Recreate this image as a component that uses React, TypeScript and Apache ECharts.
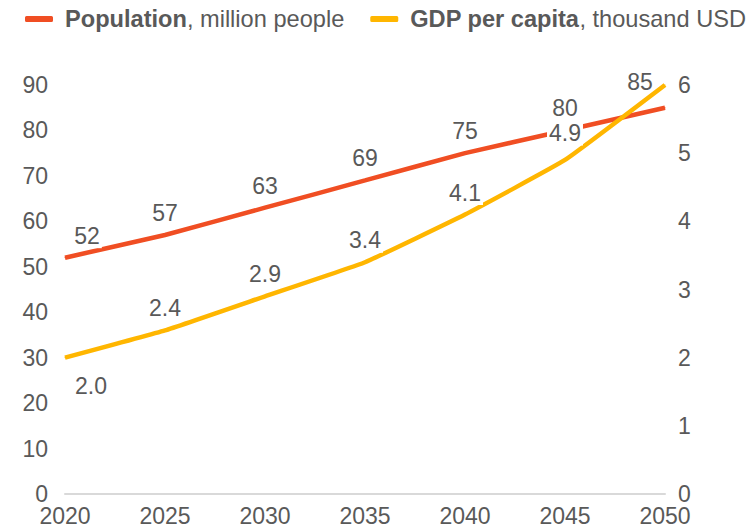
import React, { useEffect, useRef } from "react";
import * as echarts from "echarts";

const years = ["2020", "2025", "2030", "2035", "2040", "2045", "2050"];
const population = [52, 57, 63, 69, 75, 80, 85];
const gdpPerCapita = [2.0, 2.4, 2.9, 3.4, 4.1, 4.9, 6.0];
const leftTicks = { min: 0, max: 90, interval: 10 };
const rightTicks = { min: 0, max: 6, interval: 1 };

const FONT = 'Arial, "Liberation Sans", sans-serif';
const GREY = "#595959";
const RED = "#F04E23";
const YELLOW = "#FFB600";
const LEGEND_FS = 23.6;

export default function App() {
  const ref = useRef<HTMLDivElement>(null);
  useEffect(() => {
    document.body.style.margin = "0";
    const chart = echarts.init(ref.current!, null, { renderer: "svg" });
    const labelBase = {
      show: true,
      position: "top",
      distance: 9,
      color: GREY,
      fontSize: 23,
      fontFamily: FONT,
      backgroundColor: "#fff",
      padding: [1, 2],
    };
    const popData = population.map((v, i) => {
      const item: any = { value: v };
      if (i === 0) item.label = { offset: [22, 0] };
      if (i === population.length - 1) item.label = { offset: [-25, -4] };
      return item;
    });
    const gdpData = gdpPerCapita.map((v, i) => {
      const item: any = { value: v };
      if (i === 0) item.label = { position: "bottom", distance: 15, offset: [26, 0] };
      if (i === 5) item.label = { offset: [0, -5] };
      if (i === gdpPerCapita.length - 1) item.label = { show: false };
      return item;
    });
    chart.setOption({
      animation: false,
      textStyle: { fontFamily: FONT },
      legend: {
        top: 7,
        left: 25,
        width: 723,
        padding: 0,
        itemWidth: 28,
        itemHeight: 6,
        itemGap: 26,
        icon: "roundRect",
        textStyle: {
          fontSize: LEGEND_FS,
          color: GREY,
          fontFamily: FONT,
          padding: [0, 0, 0, 7],
          rich: {
            b: { fontWeight: "bold", fontSize: LEGEND_FS, color: GREY, fontFamily: FONT },
            r: { fontSize: LEGEND_FS, color: GREY, fontFamily: FONT },
          },
        },
        formatter: (name: string) =>
          name === "Population"
            ? "{b|Population}{r|, million people}"
            : "{b|GDP per capita}{r|, thousand USD}",
        data: ["Population", "GDP per capita"],
      },
      grid: { left: 65, right: 83, top: 85, bottom: 35, containLabel: false },
      xAxis: {
        type: "category",
        data: years,
        boundaryGap: false,
        axisLine: { lineStyle: { color: "#D9D9D9", width: 2 } },
        axisTick: { show: false },
        axisLabel: { color: GREY, fontSize: 23, fontFamily: FONT, margin: 10 },
      },
      yAxis: [
        {
          type: "value",
          ...leftTicks,
          splitLine: { show: false },
          axisLine: { show: false },
          axisTick: { show: false },
          axisLabel: { color: GREY, fontSize: 23, fontFamily: FONT, margin: 17 },
        },
        {
          type: "value",
          ...rightTicks,
          splitLine: { show: false },
          axisLine: { show: false },
          axisTick: { show: false },
          axisLabel: { color: GREY, fontSize: 23, fontFamily: FONT, margin: 13 },
        },
      ],
      series: [
        {
          name: "Population",
          type: "line",
          yAxisIndex: 0,
          data: popData,
          smooth: 0.1,
          symbol: "circle",
          symbolSize: 1,
          itemStyle: { color: RED },
          lineStyle: { color: RED, width: 4.5 },
          label: labelBase,
          z: 2,
        },
        {
          name: "GDP per capita",
          type: "line",
          yAxisIndex: 1,
          data: gdpData,
          smooth: 0.1,
          symbol: "circle",
          symbolSize: 1,
          itemStyle: { color: YELLOW },
          lineStyle: { color: YELLOW, width: 4.5 },
          label: { ...labelBase, formatter: (p: any) => Number(p.value).toFixed(1) },
          z: 3,
        },
      ],
    });
    return () => chart.dispose();
  }, []);
  return <div ref={ref} style={{ width: 748, height: 529 }} />;
}
